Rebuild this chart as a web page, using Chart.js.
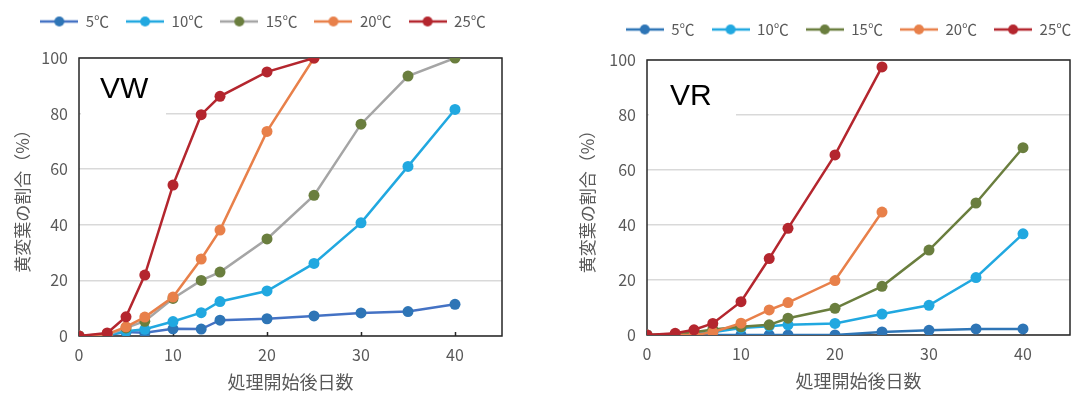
<!DOCTYPE html>
<html>
<head>
<meta charset="utf-8">
<script src="https://cdn.jsdelivr.net/npm/chart.js@4"></script>
<style>
  body { margin: 0; background: #fff; }
  .panel { position: absolute; top: 0; width: 543px; height: 395px; }
  #leftPanel { left: 0; }
  #rightPanel { left: 543px; }
</style>
</head>
<body>
<div class="panel" id="leftPanel"><canvas id="vwChart"></canvas></div>
<div class="panel" id="rightPanel"><canvas id="vrChart"></canvas></div>
<script>
// days after treatment start
const days = [0, 3, 5, 7, 10, 13, 15, 20, 25, 30, 35, 40];
const seriesLabels = ['5℃', '10℃', '15℃', '20℃', '25℃'];
const xTickValues = [0, 10, 20, 30, 40];
const yTickValues = [0, 20, 40, 60, 80, 100];

// VW: share of yellowed leaves (%)
const vw5 = [0, 0.3, 1.4, 1.2, 2.6, 2.5, 5.7, 6.2, 7.2, 8.3, 8.8, 11.4];
const vw10 = [0, 0.3, 1.7, 2.4, 5.2, 8.4, 12.4, 16.2, 26.1, 40.7, 61.0, 81.5];
const vw15 = [0, 0.3, 2.9, 5.3, 13.5, 20.0, 23.0, 34.9, 50.6, 76.2, 93.5, 100];
const vw20 = [0, 0.7, 3.3, 6.8, 14.0, 27.7, 38.1, 73.6, 100];
const vw25 = [0, 1.1, 6.9, 21.9, 54.3, 79.6, 86.2, 95.0, 100];

// VR: share of yellowed leaves (%)
const vr5 = [0, 0, 0, 0, 0, 0, 0, 0, 1.1, 1.7, 2.2, 2.2];
const vr10 = [0, 0, 0.5, 1.0, 2.5, 3.2, 3.7, 4.2, 7.6, 10.8, 20.9, 36.8];
const vr15 = [0, 0.3, 1.0, 2.0, 3.0, 3.7, 6.1, 9.7, 17.7, 30.9, 48.0, 68.1];
const vr20 = [0, 0, 0, 1.0, 4.3, 9.1, 11.8, 19.8, 44.7];
const vr25 = [0, 0.6, 1.9, 4.2, 12.1, 27.8, 38.8, 65.5, 97.5];

const markerColors = ['#2E75B6', '#21A8E0', '#6A7E3E', '#E8804A', '#B4262E'];
const vwLineColors = ['#4472C4', '#21A8E0', '#A5A5A5', '#E8804A', '#B4262E'];
const vrLineColors = ['#2E75B6', '#21A8E0', '#6A7E3E', '#E8804A', '#B4262E'];

const FONT = '"Noto Sans CJK JP", "Noto Sans", sans-serif';
const GREY = '#595959';

const toPoints = (values) => values.map((v, i) => ({ x: days[i], y: v }));

// little line-with-dot picture for the legend
const legendIcon = (lineColor, dotColor) => {
    const c = document.createElement('canvas');
    c.width = 38;
    c.height = 12;
    const g = c.getContext('2d');
    g.strokeStyle = lineColor;
    g.lineWidth = 2.5;
    g.beginPath();
    g.moveTo(0, 6);
    g.lineTo(38, 6);
    g.stroke();
    g.fillStyle = dotColor;
    g.beginPath();
    g.arc(19, 6, 5, 0, Math.PI * 2);
    g.fill();
    return c;
};

// frame, inner x ticks and the panel label
const framePlugin = {
    id: 'frame',
    beforeDatasetsDraw(chart, args, opts) {
        const { ctx, chartArea: a } = chart;
        const xs = chart.scales.x;
        ctx.save();
        ctx.fillStyle = '#fff';
        ctx.fillRect(a.left + 2, a.top + 2, opts.maskWidth, opts.maskHeight);
        ctx.fillStyle = '#000';
        ctx.font = '30px "Liberation Sans", Arial, sans-serif';
        ctx.textBaseline = 'top';
        ctx.fillText(opts.label, a.left + opts.labelDx, a.top + opts.labelDy);

        ctx.strokeStyle = '#262626';
        ctx.lineWidth = 1.5;
        ctx.strokeRect(a.left, a.top, a.right - a.left, a.bottom - a.top);
        ctx.beginPath();
        xTickValues.forEach((v) => {
            const px = Math.round(xs.getPixelForValue(v)) + 0.5;
            ctx.moveTo(px, a.bottom);
            ctx.lineTo(px, a.bottom - 4);
        });
        ctx.stroke();
        ctx.restore();
    }
};

// slide the legend
const legendShift = {
    id: 'legendShift',
    afterLayout(chart, args, opts) {
        chart.legend.left += opts.dx;
        chart.legend.right += opts.dx;
        chart.legend.top += opts.dy;
        chart.legend.bottom += opts.dy;
    }
};

const makeChart = (canvasId, seriesValues, lineColors, cfg) => {
    const datasets = seriesValues.map((values, i) => ({
        label: seriesLabels[i],
        data: toPoints(values),
        borderColor: lineColors[i],
        backgroundColor: markerColors[i],
        pointBackgroundColor: markerColors[i],
        pointBorderColor: markerColors[i],
        pointRadius: 5.5,
        pointBorderWidth: 0,
        borderWidth: 2.5,
        order: seriesValues.length - i
    }));

    return new Chart(document.getElementById(canvasId), {
        type: 'line',
        data: { datasets },
        plugins: [framePlugin, legendShift],
        options: {
            responsive: true,
            maintainAspectRatio: false,
            animation: false,
            layout: { padding: cfg.padding },
            plugins: {
                tooltip: { enabled: false },
                frame: cfg.frame,
                legendShift: { dx: cfg.legendDx, dy: cfg.legendDy },
                legend: {
                    position: 'top',
                    labels: {
                        usePointStyle: true,
                        pointStyleWidth: 38,
                        boxHeight: 12,
                        padding: 17,
                        color: GREY,
                        font: { family: FONT, size: 15 },
                        generateLabels: (chart) => chart.data.datasets.map((ds, i) => ({
                            text: ds.label,
                            pointStyle: legendIcon(ds.borderColor, ds.pointBackgroundColor),
                            fillStyle: 'transparent',
                            strokeStyle: 'transparent',
                            lineWidth: 0,
                            fontColor: GREY,
                            hidden: false,
                            datasetIndex: i
                        }))
                    }
                }
            },
            scales: {
                x: {
                    type: 'linear',
                    min: 0,
                    max: 45,
                    afterFit: (scale) => { scale.height = 57; },
                    afterBuildTicks: (scale) => { scale.ticks = xTickValues.map((v) => ({ value: v })); },
                    grid: { display: false, drawTicks: false },
                    border: { display: false },
                    ticks: { padding: 9, color: GREY, font: { family: FONT, size: 16 } },
                    title: {
                        display: true,
                        text: '処理開始後日数',
                        color: GREY,
                        font: { family: FONT, size: 18 },
                        padding: { top: 8, bottom: 0 }
                    }
                },
                y: {
                    min: 0,
                    max: 100,
                    afterFit: (scale) => { scale.width = cfg.yWidth; },
                    afterBuildTicks: (scale) => { scale.ticks = yTickValues.map((v) => ({ value: v })); },
                    grid: { color: '#D9D9D9', lineWidth: 1.5, drawTicks: false },
                    border: { display: false },
                    ticks: { padding: 11, color: GREY, font: { family: FONT, size: 16 } },
                    title: {
                        display: true,
                        text: '黄変葉の割合（%）',
                        color: GREY,
                        font: { family: FONT, size: 17 },
                        padding: { top: cfg.yTitlePad, bottom: 0 }
                    }
                }
            }
        }
    });
};

makeChart('vwChart', [vw5, vw10, vw15, vw20, vw25], vwLineColors, {
    padding: { left: 0, right: 41, top: 16, bottom: 2 },
    yWidth: 79,
    yTitlePad: 12,
    legendDx: 12,
    legendDy: -19,
    frame: { label: 'VW', labelDx: 21, labelDy: 17, maskWidth: 85, maskHeight: 64 }
});

makeChart('vrChart', [vr5, vr10, vr15, vr20, vr25], vrLineColors, {
    padding: { left: 0, right: 16, top: 18, bottom: 3 },
    yWidth: 104,
    yTitlePad: 34,
    legendDx: 42,
    legendDy: -13,
    frame: { label: 'VR', labelDx: 23, labelDy: 22, maskWidth: 87, maskHeight: 60 }
});
</script>
</body>
</html>
